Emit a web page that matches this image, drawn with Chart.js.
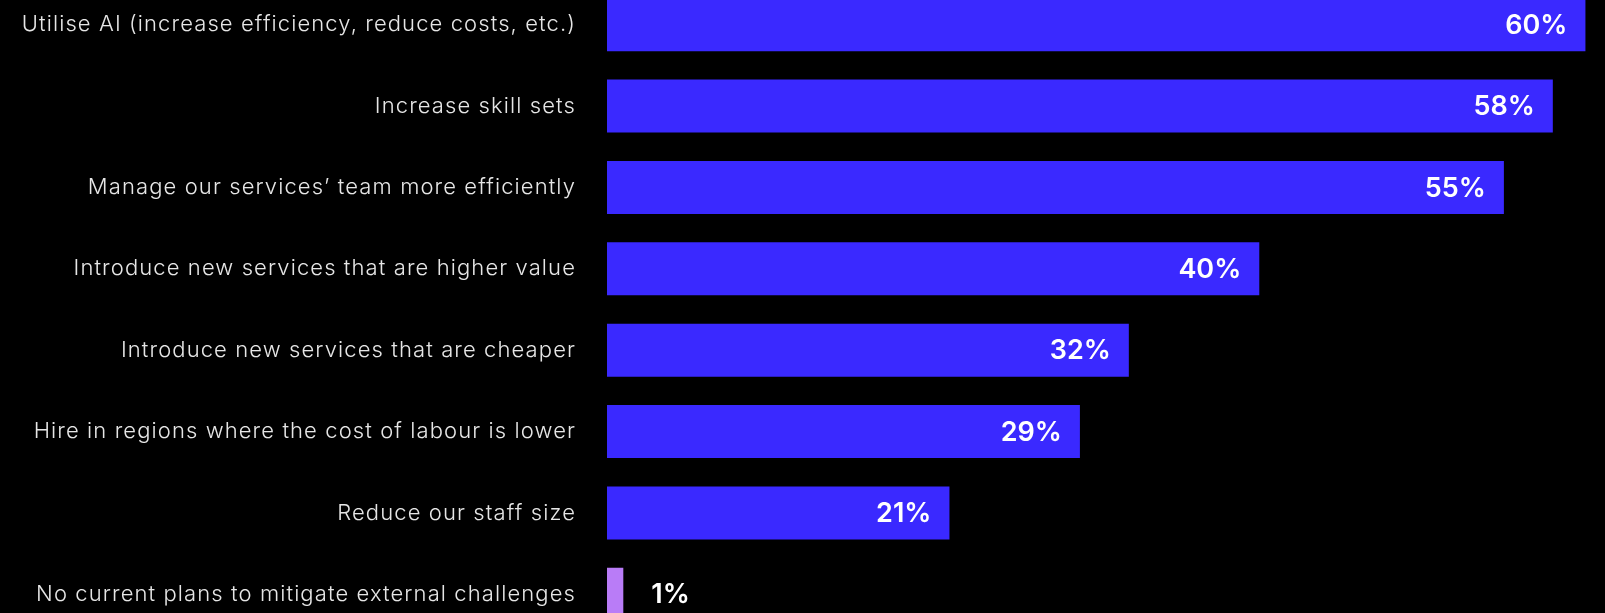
<!DOCTYPE html>
<html lang="en">
<head>
  <meta charset="UTF-8" />
  <title>Plans to mitigate external challenges</title>
  <script src="https://cdn.jsdelivr.net/npm/chart.js"></script>
  <style>
    html, body {
      margin: 0;
      padding: 0;
      background: #000;
      overflow: hidden;
      width: 1605px;
      height: 613px;
    }
    #chart {
      position: absolute;
      left: 0;
      top: -16px;
    }
  </style>
</head>
<body>

<canvas id="chart" width="1605" height="651"></canvas>

<script>
  const categories = [
    "Utilise AI (increase efficiency, reduce costs, etc.)",
    "Increase skill sets",
    "Manage our services\u2019 team more efficiently",
    "Introduce new services that are higher value",
    "Introduce new services that are cheaper",
    "Hire in regions where the cost of labour is lower",
    "Reduce our staff size",
    "No current plans to mitigate external challenges"
  ];
  const shares = [60, 58, 55, 40, 32, 29, 21, 1];
  const barColors = ["#3a29ff", "#3a29ff", "#3a29ff", "#3a29ff", "#3a29ff", "#3a29ff", "#3a29ff", "#b97cf7"];

  // category labels are set a little wider than the font's default spacing
  const labelSpacing = {
    id: "labelSpacing",
    beforeDraw(chart) {
      chart.ctx.letterSpacing = "1.1px";
    },
    afterDraw(chart) {
      chart.ctx.letterSpacing = "0px";
    }
  };

  // percentage labels: inside the bar end, or just past it for tiny bars
  const valueLabels = {
    id: "valueLabels",
    afterDatasetsDraw(chart) {
      const ctx = chart.ctx;
      const meta = chart.getDatasetMeta(0);
      ctx.save();
      ctx.letterSpacing = "0px";
      ctx.font = "600 27px Inter";
      ctx.fillStyle = "#ffffff";
      ctx.textBaseline = "middle";
      meta.data.forEach((bar, i) => {
        const v = shares[i];
        const text = v + "%";
        if (v < 5) {
          ctx.textAlign = "left";
          ctx.fillText(text, bar.x + 28, bar.y + 1);
        } else {
          ctx.textAlign = "right";
          ctx.fillText(text, bar.x - 18, bar.y + 1);
        }
      });
      ctx.restore();
    }
  };

  new Chart(document.getElementById("chart"), {
    type: "bar",
    data: {
      labels: categories,
      datasets: [{
        data: shares,
        backgroundColor: barColors,
        borderWidth: 0,
        barPercentage: 0.652,
        categoryPercentage: 1
      }]
    },
    options: {
      indexAxis: "y",
      responsive: false,
      animation: false,
      layout: { padding: 0 },
      plugins: {
        legend: { display: false },
        tooltip: { enabled: false }
      },
      scales: {
        x: {
          display: false,
          min: 0,
          max: 61.2
        },
        y: {
          grid: { display: false, drawTicks: false },
          border: { display: false },
          ticks: {
            color: "#e6e6e6",
            padding: 31,
            font: { family: "Inter", weight: "300", size: 22 }
          },
          afterFit(scale) {
            scale.width = 607;
            // let the bars use the full canvas height
            scale.paddingTop = 0;
            scale.paddingBottom = 0;
          }
        }
      }
    },
    plugins: [labelSpacing, valueLabels]
  });
</script>

</body>
</html>
